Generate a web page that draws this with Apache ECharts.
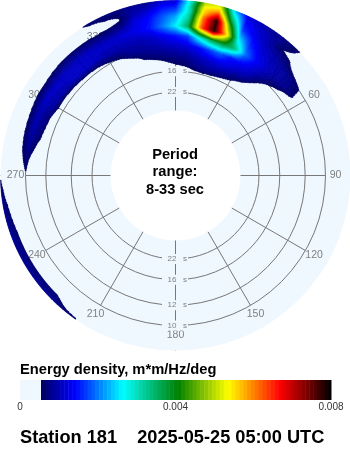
<!DOCTYPE html>
<html><head><meta charset="utf-8">
<style>html,body{margin:0;padding:0;background:#fff}#c{width:350px;height:450px}</style>
<script src="https://cdn.jsdelivr.net/npm/echarts@6/dist/echarts.min.js"></script>
</head><body><div id="c"></div>
<script>
// wave energy density, units of 1e-4 m*m/Hz/deg
const frequencies = [0.0590,0.0672,0.0754,0.0836,0.0918,0.1000,0.1082,0.1123,0.1164,0.1205];
const directions = [-150,-145,-140,-135,-130,-125,-120,-115,-110,-105,-100,-95,-90,-85,-80,-75,-70,-65,-60,-55,-50,-45,-40,-35,-30,-25,-20,-15,-10,-5,0,5,10,15,20,25,30,35,40,45,50,55,60];
const energy = [
[0,0,0,0,0,0,0,0,0,0],
[0,0,0,0,0,0,0,0,2,6],
[0,0,0,0,0,0,0,1,4,7],
[0,0,0,0,0,0,0,3,7,8],
[0,0,0,0,0,0,0,3,7,8],
[0,0,0,0,0,0,0,3,7,8],
[0,0,0,0,0,0,0,3,7,8],
[0,0,0,0,0,0,0,3,7,8],
[0,0,0,0,0,0,0,3,7,8],
[0,0,0,0,0,0,0,2,6,8],
[0,0,0,0,0,0,0,1,5,8],
[0,0,0,0,0,0,0,0,3,7],
[0,0,0,0,0,5,0,0,0,5],
[0,0,0,0,0,6.5,2,0,0,0],
[0,0,0,0,3.5,8,3,0,0,0],
[0,0,0,0,5.4,9,3.5,0,0,0],
[0,0,0,0,6.3,10,3.8,0,0,0],
[0,0,0,0,7,10,4.5,0,0,0],
[0,0,0,2,8.8,11,5,1,0,0],
[0,0,0,1.5,9.5,11,5.1,1,0,0],
[0,0,0,1.5,10,11,5.6,3,0,0],
[0,0,0,2,11,11,6,3,0,0],
[0,0,0,2.5,11,11,6.2,2.5,0,0],
[0,0,0,3.5,10.5,11,6.2,2.5,0,4],
[0,0,0,5,10,11,6,1.5,4,6.6],
[0,0,1,6,10,11,6,3,5.5,6.5],
[0,0,3,8,10,12,7,5,6,7],
[0,0,5.4,8.5,10,13,12,10,9,8],
[0,2,6.5,9,11,15,14,12,10,8],
[0,4,7,10,13,20,18,16,14,11],
[0,5,8,11,15,26,22,18,15,12],
[0,5.5,8,12,17,36,32,30,30,28],
[2,7,10,14,28,62,60,56,54,50],
[2,8,11,17,36,78,78,68,58,52],
[1,8,12,19,38,56,44,36,30,24],
[0,7,12,15,34,26,17,15,14,12],
[0,5.4,10,14,20,16,13,12,11,10],
[0,3,9,12,14,12,10,9.5,9,8],
[0,0,5,9,11,10,8,5.6,7,7],
[0,0,1,6,9,9,6,4,5,5.6],
[0,0,0,4,8,8,2,0,0,0],
[0,0,0,0,6.5,5.6,0,0,0,0],
[0,0,0,0,2,2,0,0,0,0]
];
const periodRings = [10,12,16,22];
const ringLabelDirections = [0,180];
const directionTicks = [0,30,60,90,120,150,180,210,240,270,300,330];
const colorStops = [[5.4,'#000060'],[14.1,'#0000ff'],[26.5,'#00ffff'],[40.6,'#008000'],[53.5,'#ffff00'],[66.9,'#ff0000'],[80,'#000000']];
const scaleTicks = [0,0.004,0.008];
const THRESHOLD = 5.4, F_MIN = 1/33, F_MAX = 0.1205, F_INNER_SPOKE = 1/33, F_SPOKE_END = 0.1;
const GRAY = '#787878', LABEL = '#808080', LIGHT = '#eff7ff', FONT = '"Liberation Sans", Arial, sans-serif';

function colorFor(v){
  if (v >= 80) v = 79.99;
  for (let i=0;i<colorStops.length-1;i++){
    const a=colorStops[i], b=colorStops[i+1];
    if (v<=b[0]) return echarts.color.lerp((v-a[0])/(b[0]-a[0]),[a[1],b[1]]);
  }
  return '#000';
}
const level = v => v < THRESHOLD ? -1 : Math.floor(v-THRESHOLD);
const levelColor = l => colorFor(THRESHOLD + l + 0.5);

// one item per measured cell
const cells = [];
for (let i=0;i<directions.length-1;i++) for (let j=0;j<frequencies.length-1;j++){
  const e = energy[i];
  if (Math.max(e[j],e[j+1],energy[i+1][j],energy[i+1][j+1]) >= THRESHOLD-0.01)
    cells.push([frequencies[j],(directions[i]+360)%360,e[j]*1e-4,i,j]);
}

function renderCell(params, api){
  const i=api.value(3), j=api.value(4);
  const d0=directions[i], d1=directions[i+1], f0=frequencies[j], f1=frequencies[j+1];
  const v00=energy[i][j], v01=energy[i][j+1], v10=energy[i+1][j], v11=energy[i+1][j+1];
  const NA=20, NR=Math.max(4,Math.round(2*(api.coord([f1,0])[2]-api.coord([f0,0])[2])));
  const val=(a,r)=>(v00*(1-a)+v10*a)*(1-r)+(v01*(1-a)+v11*a)*r;
  const children=[];
  for(let r=0;r<NR;r++){
    const fa=f0+(f1-f0)*r/NR, fb=f0+(f1-f0)*(r+1)/NR, rm=(r+.5)/NR;
    let s=0;
    while(s<NA){
      const l=level(val((s+.5)/NA,rm));
      let t=s+1;
      while(t<NA && level(val((t+.5)/NA,rm))===l) t++;
      if(l>=0){
        const inner=[],outer=[];
        for(let k=s;k<=t;k++){
          const d=d0+(d1-d0)*k/NA;
          inner.push(api.coord([fa,d]).slice(0,2));
          outer.unshift(api.coord([fb,d]).slice(0,2));
        }
        const col=levelColor(l);
        children.push({type:'polygon',silent:true,shape:{points:inner.concat(outer)},
          style:{fill:col,stroke:col,lineWidth:0.6}});
      }
      s=t;
    }
  }
  return {type:'group',children};
}

function renderGrid(params, api){
  const cs=params.coordSys, kids=[];
  const gstyle={stroke:GRAY,lineWidth:1,fill:null};
  kids.push({type:'sector',silent:true,shape:{cx:cs.cx,cy:cs.cy,r:cs.r,r0:cs.r0,startAngle:0,endAngle:Math.PI*2},style:{fill:LIGHT}});
  directionTicks.forEach(a=>{
    const p=api.coord([F_INNER_SPOKE,a]), q=api.coord([F_SPOKE_END,a]);
    kids.push({type:'line',silent:true,shape:{x1:p[0],y1:p[1],x2:q[0],y2:q[1]},style:gstyle});
    const t=api.coord([F_MIN+(F_MAX-F_MIN)*95/110,a]);
    kids.push({type:'text',silent:true,style:{x:t[0],y:t[1],text:String(a),fill:LABEL,font:'10.5px '+FONT,align:'center',verticalAlign:'middle'}});
  });
  periodRings.forEach(p=>{
    const c=api.coord([1/p,0]);
    kids.push({type:'circle',silent:true,shape:{cx:cs.cx,cy:cs.cy,r:c[2]},style:gstyle});
  });
  periodRings.forEach(p=>{
    ringLabelDirections.forEach(a=>{
      const c=api.coord([1/p,a]);
      kids.push({type:'rect',silent:true,shape:{x:c[0]-13.5,y:c[1]-5,width:26,height:10},style:{fill:LIGHT}});
      kids.push({type:'text',silent:true,style:{x:c[0]-8,y:c[1],text:p+'   s',fill:LABEL,font:'8px '+FONT,align:'left',verticalAlign:'middle'}});
    });
  });
  return {type:'group',children:kids};
}

const scaleBands=[{v0:0,v1:THRESHOLD,c:LIGHT}];
for(let l=0;l+THRESHOLD<80;l++) scaleBands.push({v0:THRESHOLD+l,v1:Math.min(80,THRESHOLD+l+1),c:levelColor(l)});

const chart=echarts.init(document.getElementById('c'),null,{renderer:'canvas',width:350,height:450});
chart.setOption({
  animation:false,
  backgroundColor:'#fff',
  title:[
    {text:'Energy density, m*m/Hz/deg',left:20,top:362,padding:0,textStyle:{fontFamily:FONT,fontSize:14.7,fontWeight:'bold',color:'#000'}},
    {text:'Station 181    2025-05-25 05:00 UTC',left:20,top:429,padding:0,textStyle:{fontFamily:FONT,fontSize:18.2,fontWeight:'bold',color:'#000'}}
  ],
  polar:{center:[175.5,175.5],radius:[65,175]},
  angleAxis:{type:'value',min:0,max:360,interval:30,startAngle:90,clockwise:true,
    axisLine:{show:false},axisLabel:{show:false},splitLine:{show:false},
    axisTick:{show:true,inside:true,length:6,lineStyle:{color:GRAY,width:1}}},
  radiusAxis:{type:'value',min:F_MIN,max:F_MAX,axisLine:{show:false},axisTick:{show:false},axisLabel:{show:false},splitLine:{show:false}},
  grid:{left:20,top:380,width:311,height:20,containLabel:false},
  xAxis:{type:'value',min:0,max:0.008,interval:0.004,axisLine:{show:false},axisTick:{show:false},splitLine:{show:false},
    axisLabel:{color:'#333',fontSize:10,fontFamily:FONT,margin:2,showMinLabel:true,showMaxLabel:true,hideOverlap:false,formatter:v=>String(+v.toFixed(3))}},
  yAxis:{type:'value',min:0,max:1,show:false},
  series:[
    {type:'custom',coordinateSystem:'polar',z:1,clip:false,silent:true,data:[[F_MIN,0]],renderItem:renderGrid},
    {type:'custom',coordinateSystem:'polar',z:5,clip:false,silent:true,data:cells,renderItem:renderCell,
      encode:{radius:0,angle:1},progressive:0},
    {type:'custom',coordinateSystem:'cartesian2d',xAxisIndex:0,yAxisIndex:0,z:3,silent:true,clip:false,progressive:0,
      data:scaleBands.map(b=>[b.v0*1e-4,b.v1*1e-4]),
      renderItem:(params,api)=>{
        const b=scaleBands[params.dataIndex];
        const p0=api.coord([api.value(0),1]),p1=api.coord([api.value(1),0]);
        return {type:'rect',silent:true,shape:{x:p0[0],y:p0[1],width:p1[0]-p0[0]+0.5,height:p1[1]-p0[1]},style:{fill:b.c}};
      }}
  ],
  graphic:[{type:'group',z:20,children:[
    {type:'text',x:175,y:155,style:{text:'Period',fill:'#000',font:'bold 14.7px '+FONT,align:'center',verticalAlign:'middle'}},
    {type:'text',x:175,y:172,style:{text:'range:',fill:'#000',font:'bold 14.7px '+FONT,align:'center',verticalAlign:'middle'}},
    {type:'text',x:175,y:190,style:{text:'8-33 sec',fill:'#000',font:'bold 14.7px '+FONT,align:'center',verticalAlign:'middle'}}
  ]}]
});
</script></body></html>
